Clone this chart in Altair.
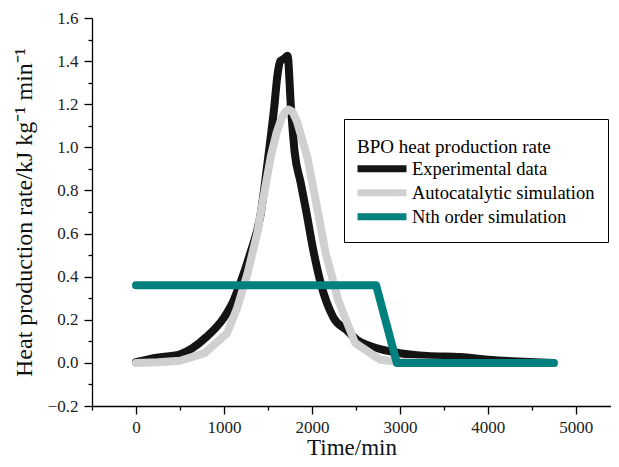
import altair as alt
import pandas as pd

# ---- data ----
series_names = ["Experimental data", "Autocatalytic simulation", "Nth order simulation"]
series_colors = ["#141414", "#d0d0d0", "#00807f"]

exp_t = [0, 200, 500, 800, 1000, 1100, 1186, 1300, 1413, 1505, 1570, 1610, 1640, 1680, 1723,
         1761, 1806, 1870, 1932, 2017, 2100, 2245, 2400, 2513, 2650, 2810, 3000, 3310, 3690, 4000, 4750]
exp_v = [0.003, 0.022, 0.04, 0.12, 0.21, 0.28, 0.37, 0.51, 0.68, 0.96, 1.18, 1.34, 1.40, 1.41, 1.425,
         1.19, 0.97, 0.84, 0.71, 0.52, 0.37, 0.21, 0.15, 0.106, 0.08, 0.06, 0.045, 0.032, 0.027, 0.015, 0.0]

auto_t = [0, 250, 500, 780, 1035, 1150, 1265, 1378, 1450, 1534, 1600, 1660, 1700, 1735, 1780,
          1830, 1880, 1950, 2050, 2150, 2300, 2490, 2775, 3000, 3500, 4750]
auto_v = [0.0, 0.003, 0.01, 0.045, 0.137, 0.255, 0.41, 0.60, 0.77, 0.96, 1.07, 1.14, 1.165, 1.175, 1.165,
          1.12, 1.05, 0.95, 0.74, 0.52, 0.29, 0.093, 0.015, 0.005, 0.0, 0.0]

nth_t = [0, 2730, 2965, 4750]
nth_v = [0.36, 0.36, 0.0, 0.0]

x_major = [0, 1000, 2000, 3000, 4000, 5000]
x_minor = [-500, 500, 1500, 2500, 3500, 4500]
y_major = [-0.2, 0.0, 0.2, 0.4, 0.6, 0.8, 1.0, 1.2, 1.4, 1.6]
y_minor = [-0.1, 0.1, 0.3, 0.5, 0.7, 0.9, 1.1, 1.3, 1.5]

rows = []
for name, ts, vs in zip(series_names, [exp_t, auto_t, nth_t], [exp_v, auto_v, nth_v]):
    for i, (t, v) in enumerate(zip(ts, vs)):
        rows.append({"series": name, "t": t, "v": v, "i": i})
df = pd.DataFrame(rows)

FONT = "Liberation Serif"
x_scale = alt.Scale(domain=[-500, 5400], nice=False, zero=False)
y_scale = alt.Scale(domain=[-0.2, 1.6], nice=False, zero=False)

x_axis_major = alt.Axis(
    orient="bottom", values=x_major, format="d",
    labelFont=FONT, labelFontSize=17, labelColor="#222",
    title="Time/min", titleY=48, titleBaseline="alphabetic",
    titleFont=FONT, titleFontSize=23, titleFontWeight="normal", titleColor="#111",
    tickSize=8, labelPadding=5, labelFlush=False, labelOverlap=False,
)
x_axis_minor = alt.Axis(
    orient="bottom", values=x_minor, labels=False, title=None, domain=False, tickSize=4,
)
y_axis_major = alt.Axis(
    orient="left", values=y_major, format=".1f",
    labelFont=FONT, labelFontSize=17, labelColor="#222",
    title="Heat production rate/kJ kg\u207b\u00b9 min\u207b\u00b9",
    titleFont=FONT, titleFontSize=24, titleFontWeight="normal", titleColor="#111",
    titleX=-61, titleY=194, titleAngle=270, titleAlign="center", titleBaseline="alphabetic",
    tickSize=8, labelPadding=6, labelFlush=False, labelOverlap=False,
)
y_axis_minor = alt.Axis(
    orient="left", values=y_minor, labels=False, title=None, domain=False, tickSize=4,
)

color_enc = alt.Color(
    "series:N",
    scale=alt.Scale(domain=series_names, range=series_colors),
    legend=alt.Legend(
        title=["", "BPO heat production rate"], titleLineHeight=6,
        orient="none", legendX=252, legendY=101,
        direction="vertical", strokeColor="black", fillColor="white", padding=13,
        symbolType="M-2.97,0H2.97", symbolSize=272, symbolStrokeWidth=7,
        symbolOffset=13, labelOffset=18, clipHeight=23.5,
        labelFontSize=18.5, titleFontSize=19, titleFontWeight="normal",
        labelFont=FONT, titleFont=FONT, labelColor="black", titleColor="black",
        titlePadding=0, rowPadding=0, labelLimit=400, titleLimit=400,
    ),
)

axes = [(x_axis_major, y_axis_major), (x_axis_minor, y_axis_minor), (None, None)]
layers = []
for name, interp, (xa, ya) in zip(series_names, ["monotone", "linear", "linear"], axes):
    layers.append(
        alt.Chart(df)
        .transform_filter(alt.datum.series == name)
        .mark_line(strokeWidth=8, strokeCap="round", strokeJoin="round", interpolate=interp)
        .encode(
            x=alt.X("t:Q", scale=x_scale, axis=xa),
            y=alt.Y("v:Q", scale=y_scale, axis=ya),
            color=color_enc,
            order="i:Q",
        )
    )

chart = (
    alt.layer(*layers)
    .resolve_axis(x="independent", y="independent")
    .properties(
        width=519, height=388,
        autosize=alt.AutoSizeParams(type="none"),
        padding={"left": 84, "top": 10, "right": 0, "bottom": 53},
    )
    .configure_view(stroke=None)
    .configure_axis(
        grid=False, domainColor="black", domainWidth=1.3, tickColor="black", tickWidth=1.3,
    )
)

chart.save("out.html", embed_options={"renderer": "svg", "actions": False})
